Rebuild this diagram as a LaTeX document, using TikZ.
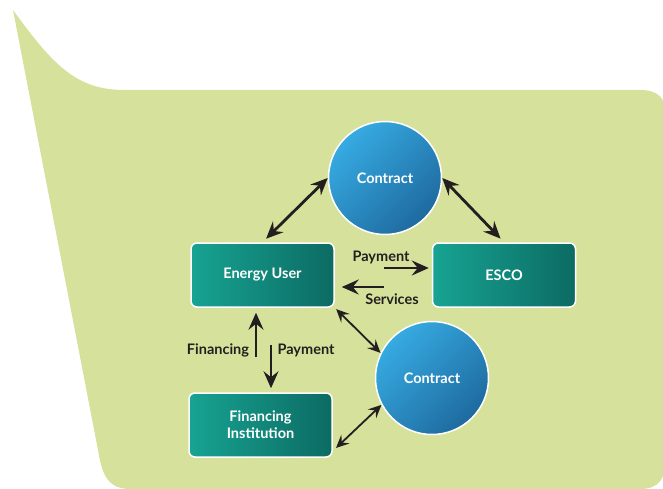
\documentclass[tikz,border=0pt]{standalone}
\usepackage{fontspec}
\setmainfont{Lato}
\usetikzlibrary{arrows.meta}

\definecolor{leaf}{HTML}{D6E29B}
\definecolor{tealA}{HTML}{17A392}
\definecolor{tealB}{HTML}{0C6B63}
\definecolor{skyA}{HTML}{36ABE2}
\definecolor{skyB}{HTML}{1E6A9F}
\definecolor{ink}{HTML}{231F20}

\tikzset{
  >={Stealth[length=17pt,width=15pt,inset=6pt]},
  party/.style={rectangle, rounded corners=6pt, draw=white, line width=1.5pt,
    minimum width=143pt, minimum height=64pt, left color=tealA, right color=tealB,
    text=white, align=center, font=\bfseries\fontsize{14.5}{17}\selectfont},
  deal/.style={circle, draw=white, line width=1.5pt, minimum size=113pt,
    top color=skyA, bottom color=skyB, shading angle=45,
    text=white, font=\bfseries\fontsize{14.5}{17}\selectfont},
  flow/.style={->, draw=ink, line width=2.8pt},
  link/.style={<->, draw=ink, line width=2.8pt},
  thinlink/.style={<->, draw=ink, line width=1.8pt,
    >={Stealth[length=13pt,width=12pt,inset=5pt]}},
  tag/.style={text=ink, font=\bfseries\fontsize{14.5}{17}\selectfont},
}

\begin{document}
\begin{tikzpicture}[x=1pt,y=-1pt]
  \useasboundingbox (0,0) rectangle (663,489);
  % speech bubble behind
  \fill[leaf] (13,10) .. controls (55,68) and (78,90) .. (125,90)
    -- (640,90) .. controls (658,90) and (666,98) .. (666,115)
    -- (666,455) .. controls (666,478) and (660,489) .. (640,489)
    -- (130,489) .. controls (108,489) and (102,475) .. (98,450) -- cycle;

  % parties and contracts
  \node[party] (eu) at (262.5,275) {Energy User};
  \node[party] (esco) at (504,275) {ESCO};
  \node[party] (fi) at (260.5,425) {Financing\\Institution};
  \node[deal] (top) at (385,178) {Contract};
  \node[deal] (low) at (432,378) {Contract};

  % money and services
  \coordinate (paytail) at (384,268);
  \coordinate (svctail) at (384,287);
  \coordinate (fintail) at (256,357);
  \coordinate (paydown) at (271,345);
  \coordinate (fiport) at (336,448);

  \draw[link, shorten <=5pt] (eu.north) -- (top.west);
  \draw[link, shorten >=5pt] (top.east) -- (esco.north);
  \draw[flow, shorten >=3pt] (paytail) -- (paytail -| esco.west);
  \draw[flow, shorten >=7pt] (svctail) -- (svctail -| eu.east);
  \draw[flow, line width=2.2pt, shorten >=5pt] (fintail) -- (fintail |- eu.south);
  \draw[flow, line width=2.2pt, shorten >=4pt] (paydown) -- (paydown |- fi.north);
  \draw[thinlink, shorten <=2pt] (eu.south east) -- (low.154);
  \draw[thinlink] (fiport) -- (low.208);

  \node[tag] (paylbl) at (381,257) {Payment};
  \node[tag] (svclbl) at (392,299) {Services};
  \node[tag] (finlbl) at (218,350) {Financing};
  \node[tag] (paylbl2) at (306,350) {Payment};
\end{tikzpicture}
\end{document}
